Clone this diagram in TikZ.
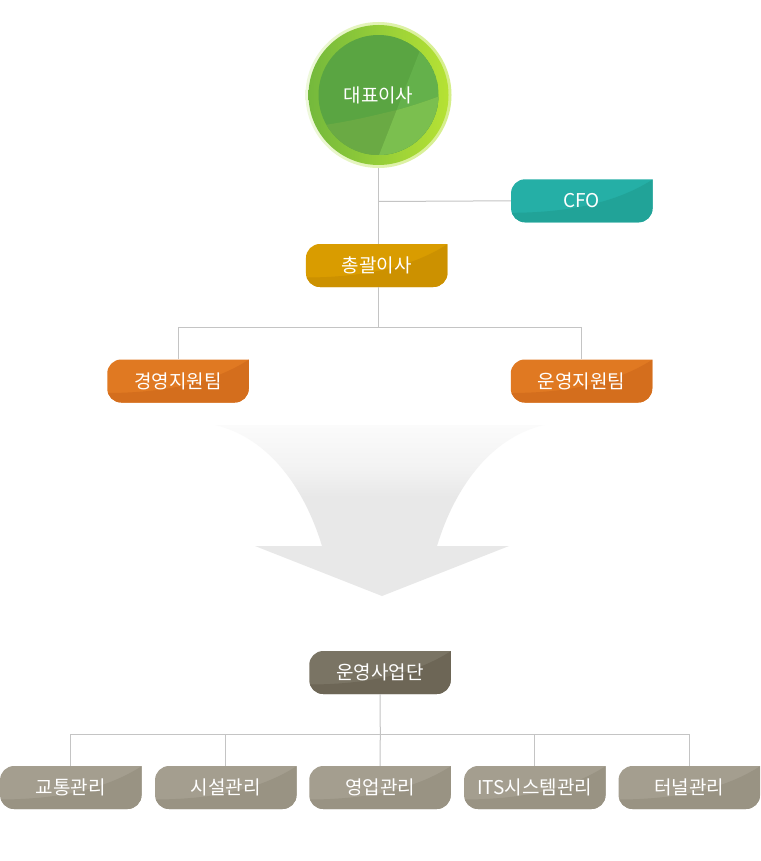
\documentclass[tikz,border=0pt]{standalone}
\usepackage{fontspec}
\newfontfamily\kr{Noto Sans CJK KR}
\definecolor{linegray}{HTML}{C4C4C4}
\definecolor{arrowgray}{HTML}{E8E8E8}
\definecolor{arrowmid}{HTML}{F2F2F2}
\definecolor{arrowtop}{HTML}{FBFBFB}
\definecolor{haloL}{HTML}{EEF8DC}
\definecolor{haloR}{HTML}{D4EE88}
\definecolor{ringL}{HTML}{74B93C}
\definecolor{ringR}{HTML}{B6E234}
\definecolor{ceoA}{HTML}{5AA542}
\definecolor{ceoB}{HTML}{64B14B}
\definecolor{ceoC}{HTML}{6AAA44}
\definecolor{ceoD}{HTML}{7BBF4F}
\definecolor{cfoA}{HTML}{25AFA6}
\definecolor{cfoB}{HTML}{21A398}
\definecolor{gmA}{HTML}{D99C00}
\definecolor{gmB}{HTML}{CC9100}
\definecolor{orA}{HTML}{E07922}
\definecolor{orB}{HTML}{D46E1D}
\definecolor{opA}{HTML}{7A7464}
\definecolor{opB}{HTML}{6D6656}
\definecolor{tmA}{HTML}{A49E8F}
\definecolor{tmB}{HTML}{999383}
\pgfdeclareverticalshading{arrowshade}{100bp}{color(0bp)=(arrowgray); color(54bp)=(arrowgray); color(62bp)=(arrowmid); color(75bp)=(arrowtop); color(100bp)=(arrowtop)}
\newcommand\boxshape{(-70.75,-7.5) arc (180:270:14) -- (70.75,-21.5) -- (70.75,7.5) arc (0:90:14) -- (-56.75,21.5) arc (90:180:14) -- cycle}
\newcommand\orgbox[5]{%
  \begin{scope}[shift={(#2)}]
    \fill[#3] \boxshape;
    \begin{scope}
      \clip \boxshape;
      \fill[#4] (-72,12) .. controls (10,12) and (50,-8) .. (72,-22) -- (72,22) -- (-72,22) -- cycle;
    \end{scope}
  \end{scope}
  \node[lbl] (#1) at (#2) {#5};
}
\tikzset{
  conn/.style={draw=linegray, line width=1pt},
  lbl/.style={font=\kr\fontsize{19}{22}\selectfont, text=white, minimum width=141.5pt, minimum height=43pt, inner sep=0pt},
}
\begin{document}
\begin{tikzpicture}[x=1pt,y=-1pt]
\useasboundingbox (0,0) rectangle (760,861);
\fill[white] (0,0) rectangle (760,861);

% big arrow
\shade[shading=arrowshade] (215,425) .. controls (270,438) and (305,490) .. (322,546) -- (255,546) -- (382,596) -- (509,546) -- (437,546) .. controls (454,490) and (489,438) .. (544,425) -- cycle;

% CEO circle
\coordinate (cc) at (378.5,95);
\shade[left color=haloL, right color=haloR] (cc) circle (73);
\shade[left color=ringL, right color=ringR] (378.5,95) circle (70);
\begin{scope}
  \clip (cc) circle (60);
  \fill[ceoA] (cc) circle (60);
  \fill[ceoB] (428,30) -- (374,168) -- (460,168) -- (460,30) -- cycle;
  \fill[ceoC] (310,127) .. controls (350,122) and (375,115) .. (397,110) .. controls (415,105) and (430,100) .. (445,94) -- (445,165) -- (310,165) -- cycle;
  \begin{scope}
    \clip (428,30) -- (374,168) -- (460,168) -- (460,30) -- cycle;
    \fill[ceoD] (310,127) .. controls (350,122) and (375,115) .. (397,110) .. controls (415,105) and (430,100) .. (445,94) -- (445,165) -- (310,165) -- cycle;
  \end{scope}
\end{scope}
\node[circle, minimum size=146pt, inner sep=0pt, font=\kr\fontsize{19}{22}\selectfont, text=white] (ceo) at (cc) {대표이사};

% boxes
\orgbox{cfo}{581.8,200.8}{cfoA}{cfoB}{CFO}
\orgbox{gm}{376.7,265.5}{gmA}{gmB}{총괄이사}
\orgbox{mg}{178,381}{orA}{orB}{경영지원팀}
\orgbox{og}{581.5,381}{orA}{orB}{운영지원팀}
\orgbox{op}{380,672.5}{opA}{opB}{운영사업단}
\orgbox{t1}{70.8,787.5}{tmA}{tmB}{교통관리}
\orgbox{t2}{225.8,787.5}{tmA}{tmB}{시설관리}
\orgbox{t3}{380,787.5}{tmA}{tmB}{영업관리}
\orgbox{t4}{534.8,787.5}{tmA}{tmB}{ITS시스템관리}
\orgbox{t5}{689.3,787.5}{tmA}{tmB}{터널관리}

% connectors
\coordinate (jc) at (378.5,201.5);
\coordinate (j1) at (378.5,327);
\coordinate (j2) at (380.3,734.3);
\draw[conn] (ceo.south) -- (ceo.south |- gm.north);
\draw[conn] (jc) -- (cfo.west);
\draw[conn] (ceo.south |- gm.south) -- (j1);
\draw[conn] (j1) -| (mg.north);
\draw[conn] (j1) -| (og.north);
\draw[conn] (op.south) -- (j2);
\draw[conn] (j2) -| (t1.north);
\draw[conn] (j2) -| (t2.north);
\draw[conn] (j2) -- (t3.north);
\draw[conn] (j2) -| (t4.north);
\draw[conn] (j2) -| (t5.north);
\end{tikzpicture}
\end{document}
